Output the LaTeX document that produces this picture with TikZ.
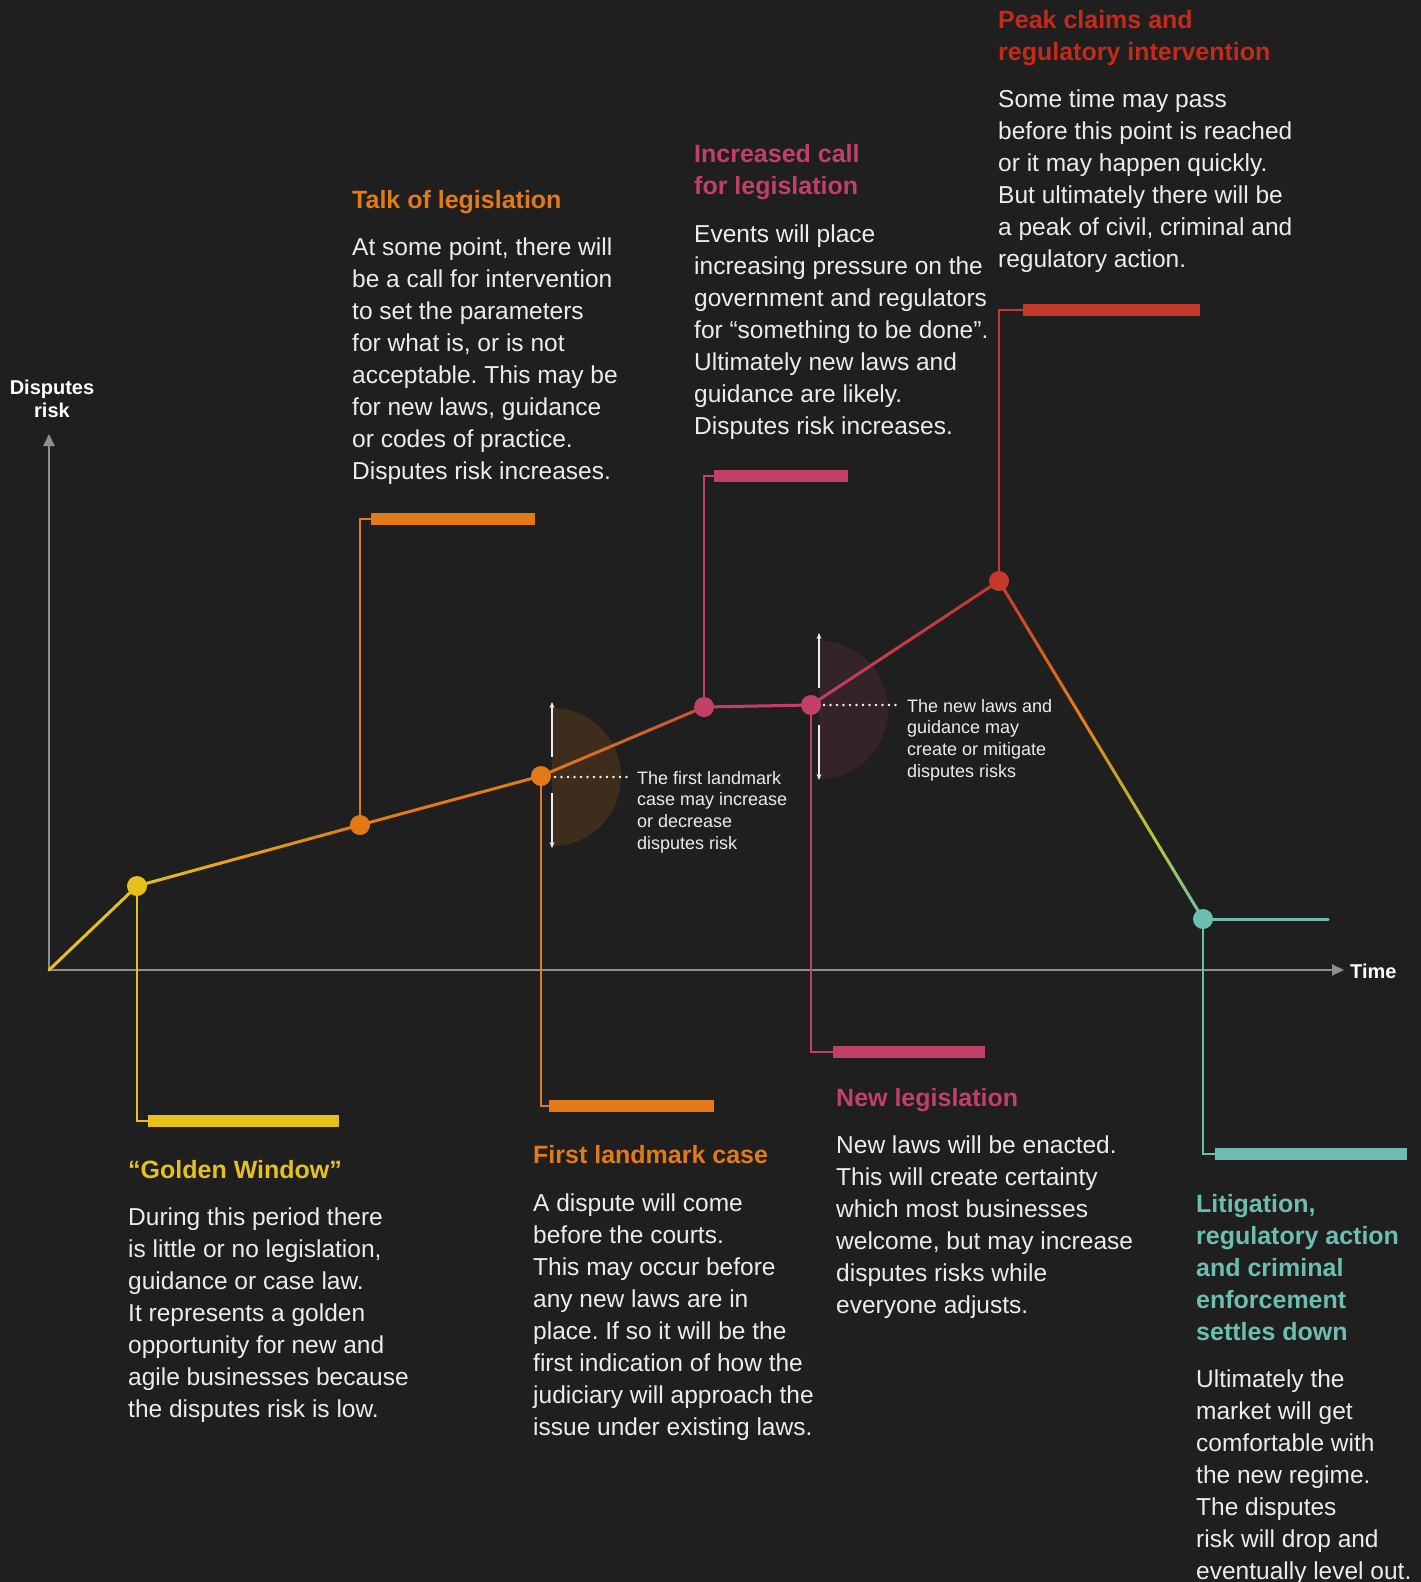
\documentclass[tikz,border=0pt]{standalone}
\usepackage{fontspec}
\setmainfont{Liberation Sans}
\usetikzlibrary{arrows.meta,calc}
\frenchspacing
\definecolor{bgc}{HTML}{1F1F1F}
\definecolor{axisc}{HTML}{8E8E8E}
\definecolor{textc}{HTML}{ECECEC}
\definecolor{yellowc}{HTML}{E6C11C}
\definecolor{orangec}{HTML}{E27A18}
\definecolor{pinkc}{HTML}{C23F66}
\definecolor{redc}{HTML}{C4392B}
\definecolor{peakc}{HTML}{C42A1A}
\definecolor{tealc}{HTML}{6CBFB0}
\definecolor{limec}{HTML}{B4C83A}
\definecolor{orredc}{HTML}{C9503A}
\newcommand\bodyf{\fontsize{24.5}{32}\selectfont}
\newcommand\headf{\fontsize{25}{32}\selectfont\bfseries}
\newcommand\smallf{\fontsize{18}{21.7}\selectfont}
\newcommand\axisf{\fontsize{20}{23}\selectfont\bfseries}
\newcommand\gradln[4]{%
  \foreach \k in {1,...,24}{%
    \pgfmathsetmacro\ga{(\k-1)/24}%
    \pgfmathsetmacro\gb{\k/24}%
    \pgfmathsetmacro\gc{100-(\k-0.5)*100/24}%
    \draw[curve,draw=#3!\gc!#4] ($(#1)!\ga!(#2)$) -- ($(#1)!\gb!(#2)$);
  }}
\begin{document}
\begin{tikzpicture}[x=1pt,y=-1pt,
  curve/.style={line width=3pt,line cap=round},
  callout/.style={line width=2pt},
  bar/.style={line width=12pt},
  axisline/.style={draw=axisc,line width=2pt},
  dot/.style={circle,inner sep=0pt,minimum size=20pt},
  body/.style={anchor=north west,yshift=22.4pt,inner sep=0pt,align=left,text=textc,font=\bodyf},
  head/.style={anchor=north west,yshift=22.4pt,inner sep=0pt,align=left,font=\headf},
  small/.style={anchor=north west,yshift=15.19pt,inner sep=0pt,align=left,text=textc,font=\smallf},
  whitearrow/.style={draw=textc,line width=1.3pt,-{Stealth[length=6pt,width=5pt]}},
  dotline/.style={draw=white,line width=2.6pt,line cap=round,dash pattern=on 0pt off 6.5pt}]
\useasboundingbox (0,0) rectangle (1421,1582);
\fill[bgc] (0,0) rectangle (1421,1582);

% coordinates
\coordinate (O) at (49,970);
\coordinate (ytop) at (49,434);
\coordinate (xend) at (1344,970);
\coordinate (d1) at (137,886);
\coordinate (d2) at (360,825);
\coordinate (d3) at (541,776);
\coordinate (d4) at (704,707);
\coordinate (d5) at (811,705);
\coordinate (d6) at (999,581);
\coordinate (d7) at (1203,919);
\coordinate (tend) at (1328,919);
\coordinate (m1) at ($(d6)!0.38!(d7)$);
\coordinate (m2) at ($(d6)!0.78!(d7)$);

% half discs
\begin{scope}
\clip (552,600) rectangle (700,900);
\fill[orangec,opacity=0.16] (552,777) circle[radius=69pt];
\end{scope}
\begin{scope}
\clip (819,600) rectangle (950,850);
\fill[pinkc,opacity=0.13] (819,710) circle[radius=69pt];
\end{scope}

% axes
\draw[axisline,-{Triangle[length=12pt,width=11pt]}] (O) -- (xend);
\draw[axisline,-{Triangle[length=12pt,width=11pt]}] (O) -- (ytop);
\node[anchor=north,yshift=16.1pt,inner sep=0pt,align=center,text=white,font=\axisf] (ylab) at (52,394) {\strut Disputes\\risk};
\node[anchor=base west,inner sep=0pt,text=white,font=\axisf] (xlab) at (1350,978) {Time};

% callout lines and bars
\coordinate (b1w) at (148,1121); \coordinate (b1e) at (339,1121);
\coordinate (b2w) at (371,518.5); \coordinate (b2e) at (535,518.5);
\coordinate (b3w) at (549,1105.5); \coordinate (b3e) at (714,1105.5);
\coordinate (b4w) at (714,476); \coordinate (b4e) at (848,476);
\coordinate (b5w) at (833,1051.5); \coordinate (b5e) at (985,1051.5);
\coordinate (b6w) at (1023,310); \coordinate (b6e) at (1200,310);
\coordinate (b7w) at (1215,1153.5); \coordinate (b7e) at (1407,1153.5);
\draw[callout,yellowc] (d1) |- (b1w);
\draw[bar,yellowc] (b1w) -- (b1e);
\draw[callout,orangec] (d2) |- (b2w);
\draw[bar,orangec] (b2w) -- (b2e);
\draw[callout,orangec] (d3) |- (b3w);
\draw[bar,orangec] (b3w) -- (b3e);
\draw[callout,pinkc] (d4) |- (b4w);
\draw[bar,pinkc] (b4w) -- (b4e);
\draw[callout,pinkc] (d5) |- (b5w);
\draw[bar,pinkc] (b5w) -- (b5e);
\draw[callout,redc] (d6) |- (b6w);
\draw[bar,redc] (b6w) -- (b6e);
\draw[callout,tealc] (d7) |- (b7w);
\draw[bar,tealc] (b7w) -- (b7e);

% curve
\draw[curve,yellowc] (O) -- (d1);
\gradln{d1}{d2}{yellowc}{orangec}
\draw[curve,orangec] (d2) -- (d3);
\gradln{d3}{d4}{orangec}{orredc}
\draw[curve,pinkc] (d4) -- (d5);
\gradln{d5}{d6}{pinkc}{redc}
\gradln{d6}{m1}{redc}{orangec}
\gradln{m1}{m2}{orangec}{limec}
\gradln{m2}{d7}{limec}{tealc}
\draw[curve,tealc,line cap=round] (d7) -- (tend);

% dots
\node[dot,fill=yellowc] (n1) at (d1) {};
\node[dot,fill=orangec] (n2) at (d2) {};
\node[dot,fill=orangec] (n3) at (d3) {};
\node[dot,fill=pinkc] (n4) at (d4) {};
\node[dot,fill=pinkc] (n5) at (d5) {};
\node[dot,fill=redc] (n6) at (d6) {};
\node[dot,fill=tealc] (n7) at (d7) {};

% annotations near dots
\coordinate (a1t) at (552,702); \coordinate (a1u) at (552,757);
\coordinate (a1l) at (552,793); \coordinate (a1b) at (552,848);
\draw[whitearrow] (a1u) -- (a1t);
\draw[whitearrow] (a1l) -- (a1b);
\coordinate (p1s) at (555,777); \coordinate (p1e) at (632,777);
\draw[dotline] (p1s) -- (p1e);
\node[small] (s1) at (637,784) {\strut The first landmark\\case may increase\\or decrease\\disputes risk};

\coordinate (a2t) at (819,633); \coordinate (a2u) at (819,688);
\coordinate (a2l) at (819,725); \coordinate (a2b) at (819,780);
\draw[whitearrow] (a2u) -- (a2t);
\draw[whitearrow] (a2l) -- (a2b);
\coordinate (p2s) at (824,705); \coordinate (p2e) at (902,705);
\draw[dotline] (p2s) -- (p2e);
\node[small] (s2) at (907,712) {\strut The new laws and\\guidance may\\create or mitigate\\disputes risks};

% text blocks
\node[head,text=orangec] (h2) at (352,208) {\strut Talk of legislation};
\node[body] (t2) at (352,255) {\strut At some point, there will\\be a call for intervention\\to set the parameters\\for what is, or is not\\acceptable. This may be\\for new laws, guidance\\or codes of practice.\\Disputes risk increases.};

\node[head,text=pinkc] (h4) at (694,162) {\strut Increased call\\for legislation};
\node[body] (t4) at (694,242) {\strut Events will place\\increasing pressure on the\\government and regulators\\for “something to be done”.\\Ultimately new laws and\\guidance are likely.\\Disputes risk increases.};

\node[head,text=peakc] (h6) at (998,28) {\strut Peak claims and\\regulatory intervention};
\node[body] (t6) at (998,107) {\strut Some time may pass\\before this point is reached\\or it may happen quickly.\\But ultimately there will be\\a peak of civil, criminal and\\regulatory action.};

\node[head,text=yellowc] (h1) at (128,1178) {\strut “Golden Window”};
\node[body] (t1) at (128,1225) {\strut During this period there\\is little or no legislation,\\guidance or case law.\\It represents a golden\\opportunity for new and\\agile businesses because\\the disputes risk is low.};

\node[head,text=orangec] (h3) at (533,1163) {\strut First landmark case};
\node[body] (t3) at (533,1211) {\strut A dispute will come\\before the courts.\\This may occur before\\any new laws are in\\place. If so it will be the\\first indication of how the\\judiciary will approach the\\issue under existing laws.};

\node[head,text=pinkc] (h5) at (836,1106) {\strut New legislation};
\node[body] (t5) at (836,1153) {\strut New laws will be enacted.\\This will create certainty\\which most businesses\\welcome, but may increase\\disputes risks while\\everyone adjusts.};

\node[head,text=tealc] (h7) at (1196,1212) {\strut Litigation,\\regulatory action\\and criminal\\enforcement\\settles down};
\node[body] (t7) at (1196,1387) {\strut Ultimately the\\market will get\\comfortable with\\the new regime.\\The disputes\\risk will drop and\\eventually level out.};
\end{tikzpicture}
\end{document}
